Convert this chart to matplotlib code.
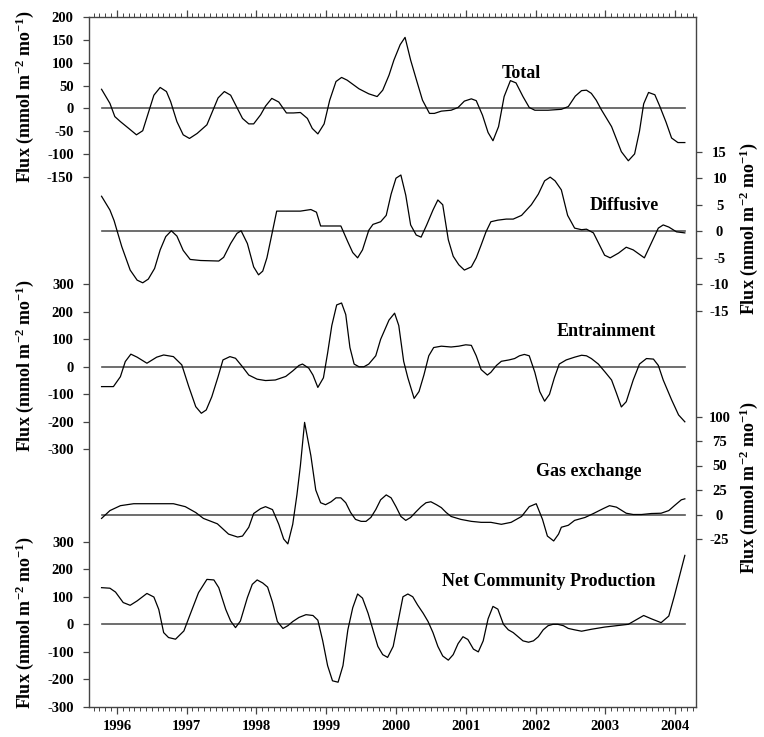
import matplotlib
matplotlib.use("Agg")
import matplotlib.pyplot as plt
from matplotlib.ticker import MultipleLocator, FixedLocator

plt.rcParams['font.family'] = ['Liberation Serif', 'DejaVu Serif']
plt.rcParams['font.weight'] = 'bold'
plt.rcParams['mathtext.fontset'] = 'custom'
plt.rcParams['mathtext.rm'] = 'Liberation Serif:bold'
plt.rcParams['mathtext.it'] = 'Liberation Serif:bold'
plt.rcParams['mathtext.bf'] = 'Liberation Serif:bold'

# ---------------- data (decimal year, flux) ----------------
total_t = [1995.78, 1995.90, 1995.97, 1996.05, 1996.17, 1996.28, 1996.37, 1996.53, 1996.62, 1996.71,
           1996.77, 1996.86, 1996.95, 1997.04, 1997.15, 1997.29, 1997.45, 1997.54, 1997.63, 1997.80,
           1997.89, 1997.96, 1998.06, 1998.13, 1998.22, 1998.32, 1998.43, 1998.53, 1998.63, 1998.73,
           1998.80, 1998.88, 1998.97, 1999.05, 1999.14, 1999.22, 1999.30, 1999.47, 1999.61, 1999.73,
           1999.81, 1999.90, 1999.97, 2000.06, 2000.13, 2000.21, 2000.30, 2000.38, 2000.48, 2000.55,
           2000.65, 2000.79, 2000.89, 2000.98, 2001.08, 2001.15, 2001.24, 2001.32, 2001.39, 2001.47,
           2001.55, 2001.64, 2001.72, 2001.82, 2001.91, 2001.99, 2002.18, 2002.37, 2002.47, 2002.57,
           2002.66, 2002.73, 2002.80, 2002.87, 2002.94, 2003.09, 2003.23, 2003.33, 2003.42, 2003.49,
           2003.55, 2003.62, 2003.71, 2003.78, 2003.87, 2003.95, 2004.04, 2004.14]
total_v = [42, 11, -18, -29, -44, -58, -49, 29, 46, 37,
           15, -29, -58, -66, -55, -36, 23, 37, 29, -22,
           -34, -34, -14, 5, 22, 14, -10, -10, -9, -22,
           -44, -56, -34, 18, 59, 68, 62, 43, 32, 26,
           40, 73, 106, 140, 156, 106, 59, 18, -11, -11,
           -6, -4, 2, 16, 21, 17, -15, -53, -71, -40,
           26, 61, 56, 26, 2, -4, -4, -2, 4, 27,
           39, 40, 33, 18, -2, -40, -95, -115, -100, -50,
           10, 35, 30, 5, -30, -65, -75, -75]

diff_t = [1995.78, 1995.90, 1995.96, 1996.00, 1996.07, 1996.19, 1996.29, 1996.37, 1996.45, 1996.54,
          1996.62, 1996.70, 1996.78, 1996.86, 1996.95, 1997.05, 1997.20, 1997.46, 1997.53, 1997.63,
          1997.72, 1997.78, 1997.87, 1997.96, 1998.03, 1998.09, 1998.15, 1998.23, 1998.29, 1998.49,
          1998.63, 1998.78, 1998.86, 1998.92, 1999.07, 1999.21, 1999.31, 1999.38, 1999.45, 1999.52,
          1999.61, 1999.67, 1999.78, 1999.86, 1999.93, 2000.00, 2000.07, 2000.14, 2000.21, 2000.29,
          2000.36, 2000.44, 2000.53, 2000.60, 2000.67, 2000.75, 2000.82, 2000.90, 2000.98, 2001.08,
          2001.15, 2001.22, 2001.29, 2001.36, 2001.46, 2001.58, 2001.68, 2001.80, 2001.94, 2002.04,
          2002.13, 2002.21, 2002.28, 2002.37, 2002.46, 2002.56, 2002.66, 2002.73, 2002.83, 2002.99,
          2003.07, 2003.19, 2003.30, 2003.40, 2003.56, 2003.66, 2003.76, 2003.83, 2003.91, 2004.02,
          2004.14]
diff_v = [6.6, 4.0, 2.0, 0.2, -2.9, -7.3, -9.2, -9.7, -9.0, -7.0,
          -3.5, -1.0, 0.1, -0.9, -3.6, -5.3, -5.5, -5.6, -4.9, -2.3,
          -0.4, 0.1, -2.3, -6.7, -8.2, -7.5, -5.0, 0.0, 3.8, 3.8,
          3.8, 4.1, 3.6, 1.0, 1.0, 1.0, -2.0, -4.0, -5.0, -3.5,
          0.2, 1.3, 1.8, 3.0, 7.0, 10.0, 10.6, 6.8, 1.2, -0.7,
          -1.1, 1.2, 4.0, 5.9, 5.0, -1.6, -4.7, -6.3, -7.3, -6.7,
          -5.0, -2.6, -0.1, 1.8, 2.1, 2.3, 2.3, 3.0, 5.0, 7.0,
          9.5, 10.2, 9.5, 7.8, 3.0, 0.6, 0.3, 0.4, -0.3, -4.5,
          -5.0, -4.1, -3.0, -3.5, -5.0, -2.2, 0.6, 1.2, 0.8, -0.1,
          -0.3]

entr_t = [1995.78, 1995.95, 1996.05, 1996.12, 1996.20, 1996.29, 1996.43, 1996.57, 1996.67, 1996.81,
          1996.93, 1997.03, 1997.13, 1997.21, 1997.28, 1997.36, 1997.45, 1997.52, 1997.62, 1997.70,
          1997.80, 1997.89, 1998.01, 1998.13, 1998.27, 1998.42, 1998.52, 1998.61, 1998.66, 1998.75,
          1998.81, 1998.88, 1998.96, 1999.02, 1999.08, 1999.15, 1999.22, 1999.28, 1999.34, 1999.40,
          1999.47, 1999.54, 1999.61, 1999.71, 1999.78, 1999.90, 1999.98, 2000.04, 2000.11, 2000.17,
          2000.26, 2000.33, 2000.40, 2000.47, 2000.54, 2000.65, 2000.79, 2000.90, 2001.00, 2001.08,
          2001.15, 2001.22, 2001.31, 2001.36, 2001.44, 2001.51, 2001.62, 2001.70, 2001.77, 2001.84,
          2001.91, 2001.99, 2002.06, 2002.13, 2002.20, 2002.27, 2002.34, 2002.44, 2002.56, 2002.66,
          2002.73, 2002.80, 2002.90, 2003.00, 2003.09, 2003.16, 2003.23, 2003.30, 2003.40, 2003.49,
          2003.59, 2003.69, 2003.76, 2003.83, 2003.95, 2004.05, 2004.14]
entr_v = [-72, -72, -36, 19, 46, 35, 13, 35, 43, 37,
          7, -72, -145, -169, -157, -109, -36, 25, 37, 31,
          0, -30, -45, -50, -48, -35, -15, 5, 10, -5,
          -30, -75, -40, 50, 150, 225, 232, 190, 70, 10,
          0, 0, 10, 40, 100, 170, 195, 150, 20, -40,
          -115, -90, -30, 40, 70, 75, 72, 75, 80, 78,
          40, -10, -30, -20, 5, 20, 25, 30, 40, 45,
          40, -20, -90, -125, -100, -40, 10, 25, 35, 42,
          40, 30, 10, -20, -48, -96, -146, -127, -48, 10,
          30, 28, 5, -48, -120, -175, -200]

gas_t = [1995.78, 1995.90, 1996.05, 1996.24, 1996.48, 1996.81, 1996.98, 1997.13, 1997.24, 1997.44,
         1997.60, 1997.73, 1997.80, 1997.89, 1997.96, 1998.06, 1998.13, 1998.23, 1998.32, 1998.39,
         1998.45, 1998.52, 1998.58, 1998.63, 1998.69, 1998.78, 1998.85, 1998.92, 1998.99, 1999.07,
         1999.14, 1999.21, 1999.28, 1999.35, 1999.42, 1999.50, 1999.57, 1999.64, 1999.71, 1999.78,
         1999.86, 1999.93, 2000.00, 2000.07, 2000.14, 2000.21, 2000.29, 2000.36, 2000.43, 2000.50,
         2000.58, 2000.65, 2000.72, 2000.79, 2000.93, 2001.08, 2001.22, 2001.36, 2001.51, 2001.65,
         2001.80, 2001.91, 2002.01, 2002.10, 2002.17, 2002.26, 2002.33, 2002.37, 2002.47, 2002.56,
         2002.71, 2002.83, 2002.97, 2003.06, 2003.16, 2003.30, 2003.40, 2003.52, 2003.66, 2003.80,
         2003.91, 2003.99, 2004.09, 2004.14]
gas_v = [-4, 4, 9, 11, 11, 11, 8, 2, -4, -9.5,
         -20, -23, -22, -13, 1, 6, 8, 5, -10, -25,
         -30, -10, 20, 50, 94, 60, 25, 12, 10, 13,
         17, 17, 12, 2, -5, -7, -7, -3, 5, 15,
         20, 17, 8, -2, -6, -3, 3, 8, 12, 13,
         10, 7, 2, -2, -5, -7, -8, -8, -10, -8,
         -2, 8, 11, -5, -22, -27, -20, -13, -11, -6,
         -3, 1, 6, 9, 7.5, 1.3, 0, 0, 1, 1.3,
         4, 9, 15, 16]

ncp_t = [1995.78, 1995.90, 1995.98, 1996.09, 1996.19, 1996.29, 1996.43, 1996.53, 1996.60, 1996.67,
         1996.74, 1996.84, 1996.96, 1997.05, 1997.17, 1997.29, 1997.39, 1997.46, 1997.56, 1997.63,
         1997.70, 1997.77, 1997.87, 1997.94, 1998.01, 1998.09, 1998.16, 1998.23, 1998.30, 1998.38,
         1998.45, 1998.52, 1998.61, 1998.71, 1998.81, 1998.88, 1998.95, 1999.02, 1999.09, 1999.17,
         1999.24, 1999.31, 1999.38, 1999.45, 1999.52, 1999.60, 1999.67, 1999.74, 1999.81, 1999.88,
         1999.96, 2000.03, 2000.10, 2000.17, 2000.24, 2000.31, 2000.39, 2000.46, 2000.53, 2000.60,
         2000.67, 2000.75, 2000.82, 2000.89, 2000.96, 2001.03, 2001.11, 2001.18, 2001.25, 2001.32,
         2001.39, 2001.46, 2001.54, 2001.61, 2001.68, 2001.75, 2001.82, 2001.90, 2001.97, 2002.04,
         2002.11, 2002.18, 2002.25, 2002.32, 2002.40, 2002.47, 2002.56, 2002.66, 2002.80, 2002.99,
         2003.16, 2003.33, 2003.55, 2003.66, 2003.80, 2003.91, 2003.99, 2004.14]
ncp_v = [133, 131, 117, 79, 69, 85, 112, 99, 54, -30,
         -48, -54, -24, 36, 115, 163, 161, 133, 54, 12,
         -12, 12, 97, 145, 161, 150, 135, 80, 10, -15,
         -5, 10, 25, 35, 32, 15, -60, -150, -205, -210,
         -150, -20, 60, 110, 95, 40, -20, -80, -110, -120,
         -80, 10, 100, 110, 100, 70, 40, 10, -30, -80,
         -115, -130, -110, -70, -45, -55, -90, -100, -60, 20,
         65, 55, 0, -20, -30, -45, -60, -65, -60, -45,
         -20, -5, 0, 0, -5, -15, -20, -25, -18, -10,
         -5, 0, 32, 20, 6, 30, 103, 250]

year_ticks = [1996, 1997, 1998, 1999, 2000, 2001, 2002, 2003, 2004]
total_ticks = [200, 150, 100, 50, 0, -50, -100, -150]
diff_ticks = [15, 10, 5, 0, -5, -10, -15]
entr_ticks = [300, 200, 100, 0, -100, -200, -300]
gas_ticks = [100, 75, 50, 25, 0, -25]
ncp_ticks = [300, 200, 100, 0, -100, -200, -300]

# ---------------- layout ----------------
W, H = 764, 737
fig = plt.figure(figsize=(W / 100, H / 100), dpi=100)
px_l, px_r, px_t, px_b = 89, 696, 16.5, 707
rect = [px_l / W, 1 - px_b / H, (px_r - px_l) / W, (px_b - px_t) / H]
XMIN, XMAX = 1995.60, 2004.30
spine_col = '#444444'

ax0 = fig.add_axes(rect)
ax0.set_xlim(XMIN, XMAX)
ax0.set_ylim(0, 1)
ax0.set_yticks([])
for s in ax0.spines.values():
    s.set_color(spine_col)
    s.set_linewidth(1.0)
ax0.xaxis.set_major_locator(FixedLocator(year_ticks))
ax0.xaxis.set_minor_locator(MultipleLocator(1 / 12))
ax0.set_xticklabels([str(y) for y in year_ticks], fontsize=10.5, fontweight='bold')
ax0.tick_params(axis='x', which='both', direction='out', top=True, bottom=True,
                color=spine_col, pad=4)
ax0.tick_params(axis='x', which='major', length=5, width=0.9)
ax0.tick_params(axis='x', which='minor', length=3, width=0.7)


def panel(t, v, zero_px, px_per_unit, ticks, side):
    ax = fig.add_axes(rect, sharex=ax0)
    ax.patch.set_visible(False)
    for s in ax.spines.values():
        s.set_visible(False)
    ax.xaxis.set_visible(False)
    top = (zero_px - px_t) / px_per_unit
    bot = (zero_px - px_b) / px_per_unit
    ax.set_ylim(bot, top)
    ax.set_yticks(ticks)
    ax.set_yticklabels([str(k) for k in ticks], fontsize=10.5, fontweight='bold')
    ax.yaxis.set_ticks_position(side)
    if side == 'left':
        ax.tick_params(axis='y', direction='out', length=4, width=0.9, color=spine_col, pad=7)
    else:
        ax.tick_params(axis='y', direction='out', length=4, width=0.9, color=spine_col, pad=13)
        for lab in ax.get_yticklabels():
            lab.set_horizontalalignment('center')
    ax.plot([t[0], t[-1]], [0, 0], color='#555555', lw=1.2)
    ax.plot(t, v, color='black', lw=0.9)
    return ax


panel(total_t, total_v, 108.4, 0.4554, total_ticks, 'left')
panel(diff_t, diff_v, 231.3, 5.31, diff_ticks, 'right')
panel(entr_t, entr_v, 366.8, 0.275, entr_ticks, 'left')
panel(gas_t, gas_v, 514.5, 0.98, gas_ticks, 'right')
panel(ncp_t, ncp_v, 624.5, 0.2757, ncp_ticks, 'left')

ylab = r'Flux (mmol m$^{-2}$ mo$^{-1}$)'
for (x, y) in [(25, 97), (25, 366), (25, 623)]:
    fig.text(x / W, 1 - y / H, ylab, rotation=90, ha='center', va='center',
             fontsize=13, fontweight='bold')
for (x, y) in [(749, 229), (749, 488)]:
    fig.text(x / W, 1 - y / H, ylab, rotation=90, ha='center', va='center',
             fontsize=13, fontweight='bold')

labels = [("Total", 521, 73, 'center'), ("Diffusive", 659, 205, 'right'),
          ("Entrainment", 656, 332, 'right'), ("Gas exchange", 641, 472, 'right'),
          ("Net Community Production", 656, 582, 'right')]
for txt, x, y, ha in labels:
    fig.text(x / W, 1 - y / H, txt, ha=ha, va='center', fontsize=13, fontweight='bold')

fig.savefig("out.png", dpi=100)
